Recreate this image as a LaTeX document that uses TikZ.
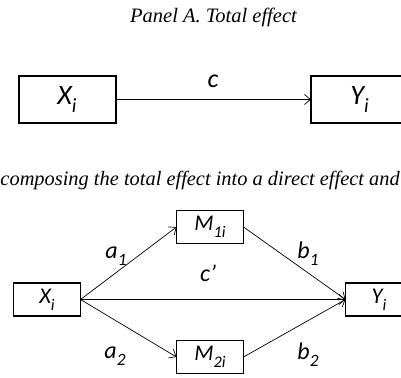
\documentclass[tikz,border=0pt]{standalone}
\usepackage{fontspec}
\setmainfont{Liberation Serif}
\newfontfamily\lab{Carlito}
\usetikzlibrary{arrows.meta}
\newcommand\sbx[1]{\raisebox{-0.3em}{\scalebox{0.72}{#1}}}
\begin{document}
\begin{tikzpicture}[x=1pt,y=-1pt,
  boxA/.style={draw, line width=2pt, minimum width=97pt, minimum height=47pt, inner sep=0pt, outer sep=0pt, font=\lab\itshape\fontsize{28}{32}\selectfont},
  boxB/.style={draw, line width=1.2pt, minimum width=67pt, minimum height=33pt, inner sep=0pt, outer sep=0pt, font=\lab\itshape\fontsize{22.5}{26}\selectfont},
  arr/.style={line width=0.7pt, -{Straight Barb[length=6pt,width=10pt]}},
  lbl/.style={font=\lab\itshape\fontsize{24}{28}\selectfont, inner sep=0pt, anchor=base},
  ttl/.style={font=\itshape\fontsize{20.5}{24}\selectfont, inner sep=0pt, anchor=base}]
\useasboundingbox (0,0) rectangle (401,377);
% Panel A
\node[ttl] (t1) at (213.5,22.5) {Panel A. Total effect};
\node[boxA] (xa) at (67,99.5) {X\sbx{i}};
\node[boxA] (ya) at (359.5,99.5) {Y\sbx{i}};
\draw[arr] (xa.east) -- (ya.west);
\node[lbl, font=\lab\itshape\fontsize{26}{28}\selectfont] (c) at (213,87.5) {c};
% Panel B
\node[ttl, anchor=base west, font=\itshape\fontsize{20.4}{24}\selectfont] (t2) at (0.3,185) {composing the total effect into a direct effect and};
\node[boxB] (xb) at (47,299.5) {X\sbx{i}};
\node[boxB] (m1) at (210,227) {M\sbx{1i}};
\node[boxB] (m2) at (210,357) {M\sbx{2i}};
\node[boxB] (yb) at (379,299.5) {Y\sbx{i}};
\draw[arr] (xb.east) -- (m1.west);
\draw[arr] (xb.east) -- (yb.west);
\draw[arr] (xb.east) -- (m2.west);
\draw[arr] (m1.east) -- (yb.west);
\draw[arr] (m2.east) -- (yb.west);
\node[lbl] (la1) at (116,258) {a\sbx{1}};
\node[lbl] (lb1) at (308,258) {b\sbx{1}};
\node[lbl] (lc) at (208,281) {c’};
\node[lbl] (la2) at (115,358) {a\sbx{2}};
\node[lbl] (lb2) at (308,359) {b\sbx{2}};
\end{tikzpicture}
\end{document}
